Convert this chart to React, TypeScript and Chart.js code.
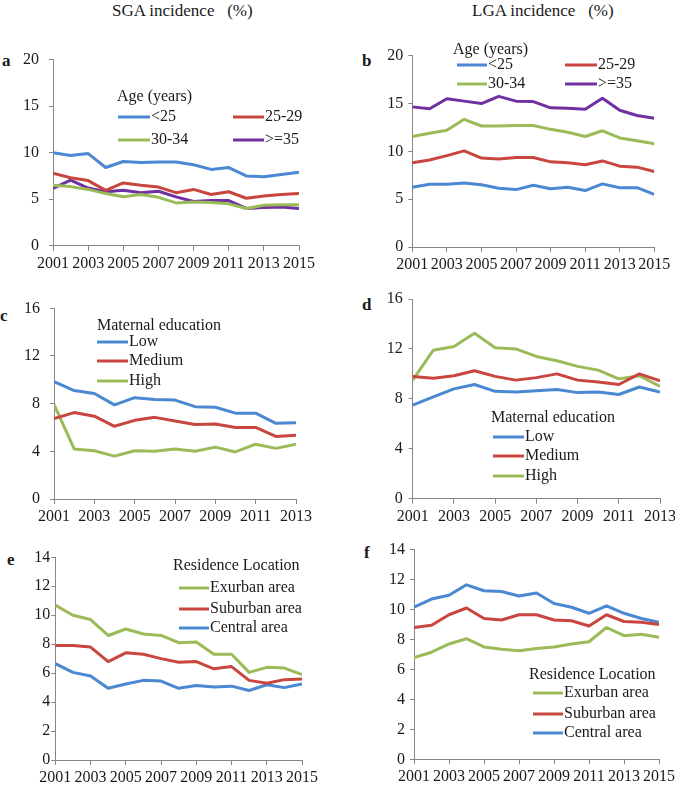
import React, { useEffect, useRef } from "react";
import { Chart, registerables } from "chart.js";

Chart.register(...registerables);

// ---------- data ----------
const yearsFull = [2001, 2002, 2003, 2004, 2005, 2006, 2007, 2008, 2009, 2010, 2011, 2012, 2013, 2014, 2015];
const yearsEdu = [2001, 2002, 2003, 2004, 2005, 2006, 2007, 2008, 2009, 2010, 2011, 2012, 2013];

const ageLabels = ["<25", "25-29", "30-34", ">=35"];
const eduLabels = ["Low", "Medium", "High"];
const resLabels = ["Exurban area", "Suburban area", "Central area"];

const sgaAgeLt25 = [10.0, 9.7, 9.9, 8.4, 9.05, 8.95, 9.0, 9.0, 8.7, 8.2, 8.4, 7.5, 7.4, 7.65, 7.9];
const sgaAge2529 = [7.8, 7.3, 7.0, 5.95, 6.75, 6.5, 6.3, 5.7, 6.05, 5.5, 5.8, 5.1, 5.35, 5.5, 5.6];
const sgaAge3034 = [6.5, 6.35, 6.05, 5.6, 5.25, 5.5, 5.2, 4.6, 4.7, 4.65, 4.5, 4.0, 4.35, 4.4, 4.4];
const sgaAgeGe35 = [6.15, 7.05, 6.2, 5.8, 5.95, 5.7, 5.85, 5.25, 4.75, 4.85, 4.85, 4.0, 4.1, 4.15, 4.0];

const lgaAgeLt25 = [6.25, 6.55, 6.55, 6.7, 6.5, 6.15, 6.0, 6.45, 6.1, 6.25, 5.9, 6.6, 6.2, 6.2, 5.5];
const lgaAge2529 = [8.8, 9.1, 9.55, 10.05, 9.3, 9.2, 9.35, 9.35, 8.9, 8.8, 8.6, 9.0, 8.45, 8.35, 7.9];
const lgaAge3034 = [11.55, 11.9, 12.2, 13.35, 12.65, 12.65, 12.7, 12.7, 12.3, 12.0, 11.55, 12.15, 11.4, 11.1, 10.8];
const lgaAgeGe35 = [14.65, 14.45, 15.5, 15.25, 15.0, 15.75, 15.25, 15.2, 14.55, 14.5, 14.4, 15.55, 14.3, 13.75, 13.45];

const sgaEduLow = [9.85, 9.1, 8.85, 7.9, 8.5, 8.35, 8.3, 7.75, 7.7, 7.2, 7.2, 6.35, 6.4];
const sgaEduMed = [6.75, 7.25, 6.95, 6.1, 6.6, 6.85, 6.55, 6.25, 6.3, 6.0, 6.0, 5.25, 5.35];
const sgaEduHigh = [7.95, 4.2, 4.05, 3.6, 4.05, 4.0, 4.2, 4.0, 4.35, 3.95, 4.6, 4.25, 4.6];

const lgaEduLow = [7.5, 8.15, 8.8, 9.15, 8.6, 8.55, 8.65, 8.75, 8.5, 8.55, 8.35, 8.95, 8.55];
const lgaEduMed = [9.8, 9.65, 9.85, 10.25, 9.8, 9.5, 9.7, 10.0, 9.5, 9.35, 9.15, 10.0, 9.45];
const lgaEduHigh = [9.5, 11.9, 12.2, 13.25, 12.1, 12.0, 11.4, 11.05, 10.6, 10.3, 9.6, 9.85, 9.0];

const sgaResEx = [10.7, 10.0, 9.7, 8.6, 9.05, 8.7, 8.6, 8.1, 8.15, 7.3, 7.3, 6.05, 6.4, 6.35, 5.9];
const sgaResSub = [7.9, 7.9, 7.8, 6.8, 7.4, 7.3, 7.0, 6.75, 6.8, 6.3, 6.45, 5.5, 5.3, 5.55, 5.6];
const sgaResCen = [6.65, 6.05, 5.8, 4.95, 5.25, 5.5, 5.45, 4.95, 5.15, 5.05, 5.1, 4.8, 5.2, 5.0, 5.25];

const lgaResEx = [6.8, 7.15, 7.7, 8.05, 7.5, 7.35, 7.25, 7.4, 7.5, 7.7, 7.85, 8.8, 8.25, 8.35, 8.15];
const lgaResSub = [8.8, 8.95, 9.65, 10.1, 9.4, 9.3, 9.65, 9.65, 9.3, 9.25, 8.9, 9.65, 9.2, 9.15, 9.0];
const lgaResCen = [10.15, 10.7, 10.95, 11.65, 11.25, 11.2, 10.9, 11.1, 10.4, 10.15, 9.75, 10.25, 9.75, 9.4, 9.15];

// ---------- styles ----------
const BLUE = "#4a88d2";
const RED = "#c8463f";
const GREEN = "#9bbb59";
const PURPLE = "#7030a0";
const AXIS = "#868686";
const TEXT = "#1a1a1a";
const FONT = "'Liberation Serif', 'Times New Roman', serif";

type Panel = {
  key: string;
  canvas: { left: number; top: number; width: number; height: number };
  area: { left: number; right: number; top: number; bottom: number };
  years: number[];
  yMax: number;
  yStep: number;
  yPad: number;
  series: { label: string; data: number[]; color: string }[];
  legend: { title: string; tx: number; ty: number; items: { x1: number; x2: number; y: number }[] };
};

const LEFT_CANVAS = { left: 0, width: 337 };
const RIGHT_CANVAS = { left: 337, width: 345 };

const panels: Panel[] = [
  {
    key: "a",
    canvas: { ...LEFT_CANVAS, top: 40, height: 235 },
    area: { left: 53, right: 299, top: 56.7, bottom: 245.7 },
    years: yearsFull, yMax: 20, yStep: 5, yPad: 10,
    series: [
      { label: ageLabels[0], data: sgaAgeLt25, color: BLUE },
      { label: ageLabels[1], data: sgaAge2529, color: RED },
      { label: ageLabels[2], data: sgaAge3034, color: GREEN },
      { label: ageLabels[3], data: sgaAgeGe35, color: PURPLE },
    ],
    legend: {
      title: "Age (years)", tx: 117, ty: 97,
      items: [
        { x1: 118, x2: 150, y: 117 },
        { x1: 233, x2: 264, y: 117 },
        { x1: 118, x2: 150, y: 140 },
        { x1: 233, x2: 264, y: 140 },
      ],
    },
  },
  {
    key: "b",
    canvas: { ...RIGHT_CANVAS, top: 40, height: 235 },
    area: { left: 412.3, right: 654.3, top: 55.7, bottom: 247 },
    years: yearsFull, yMax: 20, yStep: 5, yPad: 5,
    series: [
      { label: ageLabels[0], data: lgaAgeLt25, color: BLUE },
      { label: ageLabels[1], data: lgaAge2529, color: RED },
      { label: ageLabels[2], data: lgaAge3034, color: GREEN },
      { label: ageLabels[3], data: lgaAgeGe35, color: PURPLE },
    ],
    legend: {
      title: "Age (years)", tx: 453, ty: 50,
      items: [
        { x1: 457, x2: 487, y: 65 },
        { x1: 565, x2: 597, y: 65 },
        { x1: 457, x2: 487, y: 84 },
        { x1: 565, x2: 597, y: 84 },
      ],
    },
  },
  {
    key: "c",
    canvas: { ...LEFT_CANVAS, top: 280, height: 250 },
    area: { left: 54, right: 296, top: 308.3, bottom: 499 },
    years: yearsEdu, yMax: 16, yStep: 4, yPad: 10,
    series: [
      { label: eduLabels[0], data: sgaEduLow, color: BLUE },
      { label: eduLabels[1], data: sgaEduMed, color: RED },
      { label: eduLabels[2], data: sgaEduHigh, color: GREEN },
    ],
    legend: {
      title: "Maternal education", tx: 97, ty: 326,
      items: [
        { x1: 97, x2: 128, y: 342 },
        { x1: 97, x2: 128, y: 361 },
        { x1: 97, x2: 128, y: 381 },
      ],
    },
  },
  {
    key: "d",
    canvas: { ...RIGHT_CANVAS, top: 280, height: 250 },
    area: { left: 412.7, right: 660, top: 299, bottom: 498.7 },
    years: yearsEdu, yMax: 16, yStep: 4, yPad: 6,
    series: [
      { label: eduLabels[0], data: lgaEduLow, color: BLUE },
      { label: eduLabels[1], data: lgaEduMed, color: RED },
      { label: eduLabels[2], data: lgaEduHigh, color: GREEN },
    ],
    legend: {
      title: "Maternal education", tx: 491, ty: 418,
      items: [
        { x1: 493, x2: 524, y: 437 },
        { x1: 493, x2: 524, y: 456 },
        { x1: 493, x2: 524, y: 476 },
      ],
    },
  },
  {
    key: "e",
    canvas: { ...LEFT_CANVAS, top: 535, height: 250 },
    area: { left: 55.3, right: 302, top: 557.3, bottom: 760 },
    years: yearsFull, yMax: 14, yStep: 2, yPad: 1,
    series: [
      { label: resLabels[0], data: sgaResEx, color: GREEN },
      { label: resLabels[1], data: sgaResSub, color: RED },
      { label: resLabels[2], data: sgaResCen, color: BLUE },
    ],
    legend: {
      title: "Residence Location", tx: 173, ty: 566,
      items: [
        { x1: 179, x2: 209, y: 588 },
        { x1: 179, x2: 209, y: 609 },
        { x1: 179, x2: 209, y: 628 },
      ],
    },
  },
  {
    key: "f",
    canvas: { ...RIGHT_CANVAS, top: 535, height: 250 },
    area: { left: 414, right: 659, top: 548.3, bottom: 759.3 },
    years: yearsFull, yMax: 14, yStep: 2, yPad: 5,
    series: [
      { label: resLabels[0], data: lgaResEx, color: GREEN },
      { label: resLabels[1], data: lgaResSub, color: RED },
      { label: resLabels[2], data: lgaResCen, color: BLUE },
    ],
    legend: {
      title: "Residence Location", tx: 529, ty: 675,
      items: [
        { x1: 533, x2: 563, y: 693 },
        { x1: 533, x2: 563, y: 714 },
        { x1: 533, x2: 563, y: 733 },
      ],
    },
  },
];

const letters = [
  { t: "a", x: 2, base: 67 },
  { t: "b", x: 362, base: 67 },
  { t: "c", x: 0, base: 322 },
  { t: "d", x: 362, base: 311 },
  { t: "e", x: 7, base: 566 },
  { t: "f", x: 364, base: 559 },
];

const insideLegend = {
  id: "insideLegend",
  afterDraw(chart: any, _args: any, opts: any) {
    if (!opts || !opts.panel) return;
    const p: Panel = opts.panel;
    const ctx = chart.ctx;
    const ox = p.canvas.left;
    const oy = p.canvas.top;
    ctx.save();
    ctx.font = `16px ${FONT}`;
    ctx.fillStyle = TEXT;
    ctx.textBaseline = "middle";
    ctx.textAlign = "left";
    ctx.fillText(p.legend.title, p.legend.tx - ox, p.legend.ty - oy);
    chart.data.datasets.forEach((ds: any, i: number) => {
      const it = p.legend.items[i];
      if (!it) return;
      ctx.strokeStyle = ds.borderColor;
      ctx.lineWidth = 3;
      ctx.lineCap = "butt";
      ctx.beginPath();
      ctx.moveTo(it.x1 - ox, it.y - oy);
      ctx.lineTo(it.x2 - ox, it.y - oy);
      ctx.stroke();
      ctx.fillStyle = TEXT;
      ctx.fillText(ds.label, it.x2 + 1 - ox, it.y - oy);
    });
    ctx.restore();
  },
};

function PanelChart({ p }: { p: Panel }) {
  const ref = useRef<HTMLCanvasElement>(null);
  useEffect(() => {
    if (!ref.current) return;
    const c = p.canvas;
    const a = p.area;
    const chart = new Chart(ref.current, {
      type: "line",
      data: {
        datasets: p.series.map((s) => ({
          label: s.label,
          data: p.years.map((yr, i) => ({ x: yr, y: s.data[i] })),
          borderColor: s.color,
          backgroundColor: s.color,
          borderWidth: 3,
          pointRadius: 0,
          pointHoverRadius: 0,
          tension: 0,
          fill: false,
          borderJoinStyle: "round",
        })),
      },
      options: {
        responsive: false,
        animation: false,
        events: [],
        layout: {
          padding: {
            left: 0,
            top: a.top - c.top,
            right: c.left + c.width - a.right,
            bottom: 0,
          },
        },
        plugins: {
          legend: { display: false },
          tooltip: { enabled: false },
          insideLegend: { panel: p },
        } as any,
        scales: {
          x: {
            type: "linear",
            min: p.years[0],
            max: p.years[p.years.length - 1],
            ticks: {
              stepSize: 2,
              autoSkip: false,
              maxRotation: 0,
              padding: 3,
              color: TEXT,
              font: { family: FONT, size: 16 },
              callback: (v: any) => String(v),
            },
            grid: { drawOnChartArea: false, drawTicks: true, tickLength: 5, color: AXIS, lineWidth: 1 },
            border: { display: true, color: AXIS, width: 1 },
            afterFit: (s: any) => {
              s.height = c.top + c.height - a.bottom;
            },
          },
          y: {
            type: "linear",
            min: 0,
            max: p.yMax,
            ticks: {
              stepSize: p.yStep,
              padding: p.yPad,
              color: TEXT,
              font: { family: FONT, size: 16 },
            },
            grid: { drawOnChartArea: false, drawTicks: true, tickLength: 4, color: AXIS, lineWidth: 1 },
            border: { display: true, color: AXIS, width: 1 },
            afterFit: (s: any) => {
              s.width = a.left - c.left;
            },
          },
        },
      } as any,
      plugins: [insideLegend],
    });
    return () => chart.destroy();
  }, [p]);
  return (
    <canvas
      ref={ref}
      width={p.canvas.width}
      height={p.canvas.height}
      style={{
        position: "absolute",
        left: p.canvas.left,
        top: p.canvas.top,
        width: p.canvas.width,
        height: p.canvas.height,
      }}
    />
  );
}

export default function App() {
  const titleStyle: React.CSSProperties = {
    position: "absolute",
    top: 1,
    fontFamily: FONT,
    fontSize: 17,
    lineHeight: "20px",
    color: TEXT,
    whiteSpace: "pre",
  };
  return (
    <div
      style={{
        position: "absolute",
        left: 0,
        top: 0,
        width: 675,
        height: 785,
        overflow: "hidden",
        background: "#fff",
      }}
    >
      <div style={{ ...titleStyle, left: 112 }}>{"SGA incidence   (%)"}</div>
      <div style={{ ...titleStyle, left: 472 }}>{"LGA incidence   (%)"}</div>
      {letters.map((l) => (
        <div
          key={l.t}
          style={{
            position: "absolute",
            left: l.x,
            top: l.base - 15.75,
            fontFamily: FONT,
            fontSize: 17,
            fontWeight: "bold",
            lineHeight: "20px",
            color: TEXT,
          }}
        >
          {l.t}
        </div>
      ))}
      {panels.map((p) => (
        <PanelChart key={p.key} p={p} />
      ))}
    </div>
  );
}
